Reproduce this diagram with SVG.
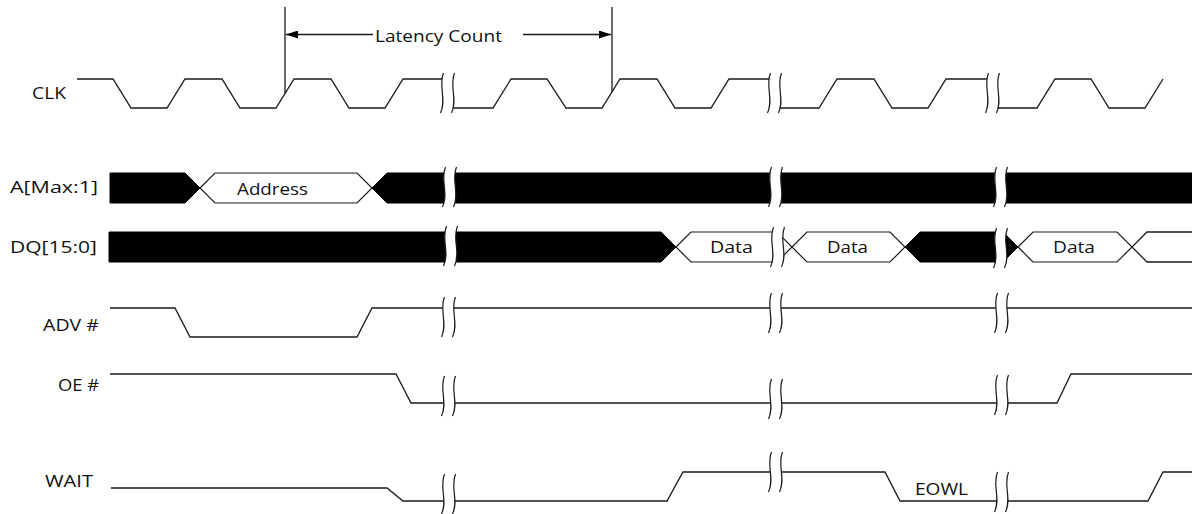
<svg xmlns="http://www.w3.org/2000/svg" xmlns:xlink="http://www.w3.org/1999/xlink" width="1192" height="514" viewBox="0 0 1192 514">
  <style>
    .wave { fill: none; stroke: #1a1a1a; stroke-width: 1.3; stroke-linejoin: miter; }
    .bus { fill: #000; stroke: #000; stroke-width: 1; }
    .box { fill: #fff; stroke: #1a1a1a; stroke-width: 1.2; }
    .lbl { font-family: "Open Sans", "Noto Sans", "DejaVu Sans", sans-serif; font-size: 17px; fill: #111; }
    .mark { fill: none; stroke: #1a1a1a; stroke-width: 1.3; }
  </style>
  <defs>
    <g id="brk">
      <path d="M1.5,0 C-4,14 5,26 -1.5,40 L9.5,40 C16,26 7,14 12.5,0 Z" fill="#fff" stroke="none"/>
      <path d="M1.5,0 C-4,14 5,26 -1.5,40 M12.5,0 C7,14 16,26 9.5,40" fill="none" stroke="#1a1a1a" stroke-width="1.2"/>
    </g>
    <marker id="ah" viewBox="0 0 12 8" refX="12" refY="4" markerWidth="12" markerHeight="8" markerUnits="userSpaceOnUse" orient="auto">
      <path d="M0,0 L12,4 L0,8 Z" fill="#000"/>
    </marker>
  </defs>

  <rect width="1192" height="514" fill="#fff"/>

  <!-- CLK -->
  <g id="clk">
    <text class="lbl" x="32" y="99" textLength="34" lengthAdjust="spacingAndGlyphs">CLK</text>
    <path class="wave" d="M77,79 H113 L131,108 H167 L185,79 H222 L240,108 H276 L294,79 H331 L349,108 H385 L403,79 H448 V108 H493 L511,79 H547 L566,108 H602 L620,79 H657 L675,108 H711 L729,79 H775 V108 H819 L837,79 H874 L892,108 H928 L946,79 H993 V108 H1037 L1055,79 H1091 L1109,108 H1145 L1163,79"/>
    <use xlink:href="#brk" href="#brk" x="442" y="73"/>
    <use xlink:href="#brk" href="#brk" x="769" y="73"/>
    <use xlink:href="#brk" href="#brk" x="987" y="73"/>
  </g>

  <!-- A[Max:1] -->
  <g id="addr">
    <text class="lbl" x="10" y="193" textLength="88" lengthAdjust="spacingAndGlyphs">A[Max:1]</text>
    <path class="bus" d="M110,173 H185 L200,188 L185,203 H110 Z"/>
    <path class="box" d="M200,188 L215,173 H357 L372,188 L357,203 H215 Z"/>
    <path class="bus" d="M372,188 L387,173 H1192 V203 H387 Z"/>
    <text class="lbl" x="237" y="195" textLength="71" lengthAdjust="spacingAndGlyphs">Address</text>
    <use xlink:href="#brk" href="#brk" x="444" y="167"/>
    <use xlink:href="#brk" href="#brk" x="770" y="167"/>
    <use xlink:href="#brk" href="#brk" x="995" y="167"/>
  </g>

  <!-- DQ[15:0] -->
  <g id="dq">
    <text class="lbl" x="10" y="253" textLength="87" lengthAdjust="spacingAndGlyphs">DQ[15:0]</text>
    <path class="bus" d="M109,232 H661 L676,247 L661,262 H109 Z"/>
    <path class="box" d="M676,247 L691,232 H777 L792,247 L777,262 H691 Z"/>
    <path class="box" d="M792,247 L807,232 H890 L905,247 L890,262 H807 Z"/>
    <path class="bus" d="M905,247 L920,232 H1003 L1018,247 L1003,262 H920 Z"/>
    <path class="box" d="M1018,247 L1033,232 H1117 L1132,247 L1117,262 H1033 Z"/>
    <path class="wave" d="M1192,232 H1147 L1132,247 L1147,262 H1192"/>
    <text class="lbl" x="710" y="253" textLength="43" lengthAdjust="spacingAndGlyphs">Data</text>
    <text class="lbl" x="827" y="253" textLength="41" lengthAdjust="spacingAndGlyphs">Data</text>
    <text class="lbl" x="1053" y="253" textLength="42" lengthAdjust="spacingAndGlyphs">Data</text>
    <use xlink:href="#brk" href="#brk" x="445" y="226"/>
    <use xlink:href="#brk" href="#brk" x="772" y="227"/>
    <use xlink:href="#brk" href="#brk" x="995" y="228"/>
  </g>

  <!-- ADV# -->
  <g id="adv">
    <text class="lbl" x="43" y="331" textLength="56" lengthAdjust="spacingAndGlyphs">ADV #</text>
    <path class="wave" d="M110,308 H175 L190,337 H357 L372,308 H1192"/>
    <use xlink:href="#brk" href="#brk" x="443" y="297"/>
    <use xlink:href="#brk" href="#brk" x="770" y="293"/>
    <use xlink:href="#brk" href="#brk" x="996" y="293"/>
  </g>

  <!-- OE# -->
  <g id="oe">
    <text class="lbl" x="58" y="391" textLength="41" lengthAdjust="spacingAndGlyphs">OE #</text>
    <path class="wave" d="M110,374 H396 L411,403 H1057 L1071,374 H1192"/>
    <use xlink:href="#brk" href="#brk" x="443" y="376"/>
    <use xlink:href="#brk" href="#brk" x="770" y="379"/>
    <use xlink:href="#brk" href="#brk" x="996" y="375"/>
  </g>

  <!-- WAIT -->
  <g id="wait">
    <text class="lbl" x="45" y="487" textLength="48" lengthAdjust="spacingAndGlyphs">WAIT</text>
    <path class="wave" d="M111,488 H387 L403,501 H667 L683,472 H885 L900,501 H1148 L1163,472 H1192"/>
    <text class="lbl" x="915" y="495" textLength="53" lengthAdjust="spacingAndGlyphs">EOWL</text>
    <use xlink:href="#brk" href="#brk" x="443" y="474"/>
    <use xlink:href="#brk" href="#brk" x="770" y="452"/>
    <use xlink:href="#brk" href="#brk" x="996" y="472"/>
  </g>

  <!-- Latency count dimension -->
  <g id="connectors">
    <line class="mark" x1="285" y1="7" x2="285" y2="93.5"/>
    <line class="mark" x1="612" y1="7" x2="612" y2="92"/>
    <line class="mark" x1="373" y1="34.5" x2="286" y2="34.5" marker-end="url(#ah)"/>
    <line class="mark" x1="523" y1="34.5" x2="611" y2="34.5" marker-end="url(#ah)"/>
  </g>
  <g id="latency-label">
    <text class="lbl" x="375" y="42" textLength="127" lengthAdjust="spacingAndGlyphs">Latency Count</text>
  </g>
</svg>
